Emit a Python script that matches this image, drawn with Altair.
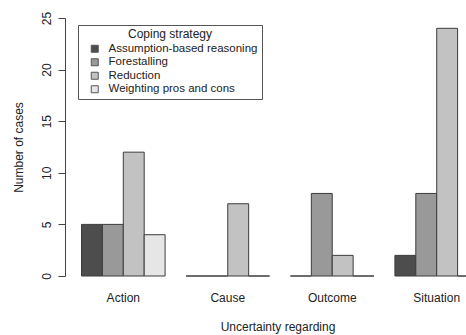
import altair as alt
import pandas as pd

# Uncertainty type (x groups) and coping strategies (bars within each group)
groups = ["Action", "Cause", "Outcome", "Situation"]
strategies = [
    "Assumption-based reasoning",
    "Forestalling",
    "Reduction",
    "Weighting pros and cons",
]

# Number of cases per strategy, one value per uncertainty group
assumption = [5, 0, 0, 2]
forestalling = [5, 0, 8, 8]
reduction = [12, 7, 2, 24]
weighting = [4, 0, 0, 0]

grays = ["#4d4d4d", "#999999", "#c2c2c2", "#e6e6e6"]

series = [assumption, forestalling, reduction, weighting]
rows = []
for strat, vals in zip(strategies, series):
    for g, v in zip(groups, vals):
        rows.append({"group": g, "strategy": strat, "cases": v})
df = pd.DataFrame(rows)

FONT = "Liberation Sans"
TEXT = "#222222"

bars = alt.Chart(df).mark_bar(stroke="#3c3c3c", strokeWidth=1, opacity=1).encode(
    x=alt.X(
        "group:N",
        sort=groups,
        title="Uncertainty regarding",
        scale=alt.Scale(range=[0, 430], paddingInner=0.2, paddingOuter=0.158),
        axis=alt.Axis(
            domain=False,
            ticks=False,
            tickSize=0,
            labelAngle=0,
            labelPadding=16,
            labelFontSize=12,
            labelFont=FONT,
            labelColor=TEXT,
            titleFont=FONT,
            titleFontSize=12,
            titleFontWeight="normal",
            titleColor=TEXT,
            titleX=212.5,
            titleY=54.5,
            titleAlign="center",
            titleBaseline="alphabetic",
        ),
    ),
    xOffset=alt.XOffset(
        "strategy:N",
        sort=strategies,
        scale=alt.Scale(paddingInner=0, paddingOuter=0),
    ),
    y=alt.Y(
        "cases:Q",
        title="Number of cases",
        scale=alt.Scale(domain=[0, 25], nice=False),
        axis=alt.Axis(
            values=[0, 5, 10, 15, 20, 25],
            grid=False,
            domainColor="#444444",
            tickColor="#444444",
            tickSize=7,
            labelAngle=270,
            labelAlign="center",
            labelBaseline="alphabetic",
            labelPadding=8,
            labelFontSize=12,
            labelFont=FONT,
            labelColor=TEXT,
            titleFont=FONT,
            titleFontSize=12,
            titleFontWeight="normal",
            titleColor=TEXT,
            titleX=-42.5,
            titleBaseline="alphabetic",
        ),
    ),
    color=alt.Color(
        "strategy:N",
        sort=strategies,
        scale=alt.Scale(domain=strategies, range=grays),
        legend=alt.Legend(
            title="Coping strategy",
            orient="none",
            legendX=13,
            legendY=7,
            padding=4,
            strokeColor="#555555",
            fillColor="white",
            titleFont=FONT,
            titleFontSize=12,
            titleFontWeight="normal",
            titleColor=TEXT,
            titleAnchor="middle",
            titleAlign="center",
            titlePadding=2,
            symbolType="square",
            symbolSize=49,
            symbolStrokeColor="#555555",
            symbolStrokeWidth=1,
            symbolOpacity=1,
            symbolOffset=7,
            labelOffset=8,
            labelFont=FONT,
            labelFontSize=11.5,
            labelColor=TEXT,
            labelLimit=300,
            rowPadding=0.5,
        ),
    ),
)

chart = bars.properties(
    width=401,
    height=258,
    autosize=alt.AutoSizeParams(type="none"),
    padding={"left": 65, "top": 18, "right": 0, "bottom": 59},
    background="white",
).configure_view(stroke=None)

chart.save("out.html", embed_options={"renderer": "svg", "actions": False})
